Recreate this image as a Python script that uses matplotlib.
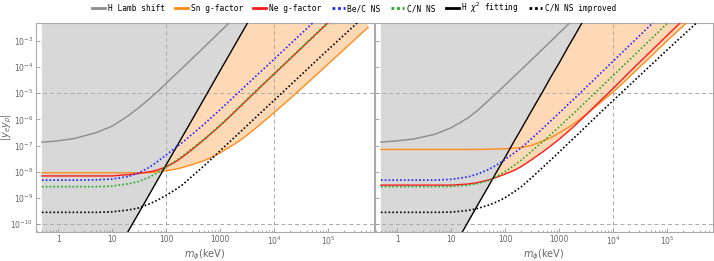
import numpy as np
import matplotlib
matplotlib.use('Agg')
import matplotlib.pyplot as plt
from matplotlib.lines import Line2D
from matplotlib.ticker import FixedLocator, LogLocator, NullFormatter

plt.rcParams['mathtext.fontset'] = 'dejavusans'

# mass grid (keV) and log10 of |y_e y_p|
m_kev = [0.5, 1, 2, 5, 10, 20, 30, 50, 70, 100, 150, 200, 300, 500, 700,
         1e3, 1.5e3, 2e3, 3e3, 5e3, 1e4, 2e4, 5e4, 1e5, 2e5, 5.5e5]

# left panel
lamb_L = [-6.87, -6.82, -6.73, -6.51, -6.26, -5.86, -5.58, -5.20, -4.93, -4.63, -4.28, -4.04, -3.69, -3.25, -2.96,
          -2.65, -2.30, -2.05, -1.70, -1.26, -0.66, -0.06, 0.74, 1.34, 1.94, 2.82]
sn_L = [-8.04, -8.04, -8.04, -8.04, -8.04, -8.04, -8.04, -8.03, -8.00, -7.96, -7.90, -7.84, -7.73, -7.58, -7.45,
        -7.28, -7.06, -6.90, -6.64, -6.27, -5.74, -5.20, -4.46, -3.89, -3.32, -2.49]
ne_L = [-8.16, -8.16, -8.16, -8.16, -8.16, -8.11, -8.07, -8.00, -7.93, -7.81, -7.62, -7.44, -7.16, -6.78, -6.52,
        -6.24, -5.90, -5.65, -5.30, -4.86, -4.27, -3.68, -2.90, -2.31, -1.72, -0.86]
be_L = [-8.32, -8.32, -8.32, -8.31, -8.28, -8.18, -8.06, -7.82, -7.60, -7.36, -7.08, -6.88, -6.58, -6.19, -5.92,
        -5.63, -5.29, -5.05, -4.71, -4.28, -3.70, -3.12, -2.35, -1.77, -1.19, -0.34]
cn_L = [-8.57, -8.57, -8.57, -8.57, -8.55, -8.46, -8.38, -8.20, -8.03, -7.82, -7.58, -7.40, -7.12, -6.76, -6.50,
        -6.22, -5.88, -5.63, -5.28, -4.84, -4.25, -3.66, -2.88, -2.29, -1.70, -0.84]
cni_L = [-9.55, -9.55, -9.55, -9.55, -9.53, -9.46, -9.39, -9.22, -9.08, -8.90, -8.68, -8.50, -8.18, -7.78, -7.50,
         -7.20, -6.86, -6.62, -6.28, -5.85, -5.27, -4.69, -3.92, -3.34, -2.77, -1.93]
chi_L = [-16.03, -14.94, -13.86, -12.43, -11.34, -10.26, -9.63, -8.83, -8.30, -7.74, -7.11, -6.66, -6.03, -5.23, -4.70,
         -4.14, -3.51, -3.06, -2.43, -1.63, -0.54, 0.54, 1.98, 3.06, 4.14, 5.72]

# right panel
lamb_R = [-6.87, -6.82, -6.75, -6.57, -6.32, -5.96, -5.68, -5.27, -4.99, -4.69, -4.34, -4.10, -3.75, -3.31, -3.02,
          -2.71, -2.36, -2.11, -1.76, -1.32, -0.72, -0.12, 0.68, 1.28, 1.88, 2.76]
sn_R = [-7.15, -7.15, -7.15, -7.15, -7.15, -7.15, -7.15, -7.14, -7.13, -7.12, -7.10, -7.07, -7.00, -6.83, -6.70,
        -6.52, -6.30, -6.12, -5.85, -5.47, -4.96, -4.38, -3.60, -3.00, -2.43, -1.60]
ne_R = [-8.51, -8.51, -8.51, -8.51, -8.51, -8.47, -8.42, -8.31, -8.21, -8.09, -7.94, -7.80, -7.56, -7.24, -7.01,
        -6.76, -6.45, -6.22, -5.87, -5.42, -4.82, -4.20, -3.40, -2.80, -2.20, -1.32]
be_R = [-8.32, -8.32, -8.32, -8.32, -8.29, -8.20, -8.10, -7.91, -7.74, -7.53, -7.27, -7.08, -6.76, -6.34, -6.06,
        -5.76, -5.41, -5.17, -4.82, -4.38, -3.78, -3.18, -2.39, -1.79, -1.19, -0.32]
cn_R = [-8.57, -8.57, -8.57, -8.57, -8.56, -8.52, -8.46, -8.33, -8.18, -8.00, -7.74, -7.55, -7.24, -6.85, -6.58,
        -6.29, -5.95, -5.71, -5.36, -4.92, -4.33, -3.73, -2.94, -2.34, -1.74, -0.86]
cni_R = [-9.55, -9.55, -9.55, -9.55, -9.54, -9.48, -9.41, -9.27, -9.15, -8.99, -8.75, -8.57, -8.25, -7.83, -7.55,
         -7.25, -6.90, -6.66, -6.31, -5.87, -5.28, -4.70, -3.93, -3.35, -2.78, -1.95]
chi_R = [-15.73, -14.65, -13.56, -12.13, -11.05, -9.96, -9.32, -8.53, -7.99, -7.45, -6.80, -6.36, -5.72, -4.93, -4.39,
         -3.85, -3.20, -2.76, -2.12, -1.33, -0.25, 0.84, 2.27, 3.35, 4.44, 6.02]

labels = ['H Lamb shift', 'Sn g-factor', 'Ne g-factor', 'Be/C NS', 'C/N NS', r'H $\chi^2$ fitting', 'C/N NS improved']
xticks = [1, 10, 100, 1000, 1e4, 1e5]
xticklabels = ['1', '10', '100', '1000', r'$10^4$', r'$10^5$']
yticks = [1e-3, 1e-4, 1e-5, 1e-6, 1e-7, 1e-8, 1e-9, 1e-10]
yticklabels = [r'$10^{%d}$' % e for e in range(-3, -11, -1)]

GRAY_FILL = '#d8d8d8'
ORANGE_FILL = '#ffd9b5'
C_LAMB = '#8c8c8c'
C_SN = '#ff8c1a'
C_NE = '#ff1a1a'
C_BE = '#2222ff'
C_CN = '#22aa22'
DOT = (0, (1, 1.3))
GRID = '#aaaaaa'


def draw(ax, lamb, sn, ne, be, cn, cni, chi, vlines):
    m = np.array(m_kev)
    lamb, sn, ne, be, cn, cni, chi = [10.0 ** np.array(v) for v in (lamb, sn, ne, be, cn, cni, chi)]
    low = np.minimum(sn, ne)
    # orange band first, the gray region on top trims it to the black line
    ax.fill_between(m, low, np.maximum(chi, low), color=ORANGE_FILL, lw=0, zorder=0)
    ax.fill_between(m, chi, 1.0, color=GRAY_FILL, lw=0, zorder=0)

    for yv in (1e-5, 1e-10):
        ax.axhline(yv, color=GRID, lw=0.7, ls=(0, (4, 3)), zorder=1)
    for xv in vlines:
        ax.axvline(xv, color=GRID, lw=0.7, ls=(0, (4, 3)), zorder=1)

    ax.plot(m, lamb, color=C_LAMB, lw=1.0, zorder=3)
    ax.plot(m, sn, color=C_SN, lw=1.0, zorder=3)
    ax.plot(m, ne, color=C_NE, lw=1.0, zorder=3)
    ax.plot(m, be, color=C_BE, lw=1.2, ls=DOT, zorder=4)
    ax.plot(m, cn, color=C_CN, lw=1.2, ls=DOT, zorder=4)
    ax.plot(m, chi, color='black', lw=1.0, zorder=3)
    ax.plot(m, cni, color='black', lw=1.2, ls=DOT, zorder=4)

    ax.set_xscale('log')
    ax.set_yscale('log')
    ax.set_xlim(10 ** -0.41, 10 ** 5.85)
    ax.set_ylim(10 ** -10.3, 10 ** -2.31)
    ax.xaxis.set_major_locator(FixedLocator(xticks))
    ax.set_xticklabels(xticklabels)
    ax.xaxis.set_minor_locator(LogLocator(base=10, subs=np.arange(2, 10), numticks=20))
    ax.xaxis.set_minor_formatter(NullFormatter())
    ax.yaxis.set_major_locator(FixedLocator(yticks))
    ax.yaxis.set_minor_locator(FixedLocator([]))
    ax.tick_params(which='both', direction='in', color='#999999', labelcolor='#666666',
                   labelsize=5.5, width=0.6, pad=2)
    ax.tick_params(which='major', length=3)
    ax.tick_params(which='minor', length=1.6)
    for s in ax.spines.values():
        s.set_color('#aaaaaa')
        s.set_linewidth(0.8)
    ax.set_xlabel(r'$m_\phi$(keV)', fontsize=7, color='#666666', labelpad=0)


fig = plt.figure(figsize=(7.14, 2.61), dpi=100)
ax1 = fig.add_axes([36 / 714, 1 - 232 / 261, 338 / 714, 209.3 / 261])
ax2 = fig.add_axes([375 / 714, 1 - 232 / 261, 338 / 714, 209.3 / 261])

draw(ax1, lamb_L, sn_L, ne_L, be_L, cn_L, cni_L, chi_L, vlines=[100, 1e4])
draw(ax2, lamb_R, sn_R, ne_R, be_R, cn_R, cni_R, chi_R, vlines=[1e4])

ax1.set_yticklabels(yticklabels)
ax2.set_yticklabels([])
ax1.set_ylabel(r'$|y_e y_p|$', fontsize=7, color='#666666')
ax1.yaxis.set_label_coords(-0.066, 0.5)

handles = [
    Line2D([], [], color=C_LAMB, lw=2),
    Line2D([], [], color=C_SN, lw=2),
    Line2D([], [], color=C_NE, lw=2),
    Line2D([], [], color=C_BE, lw=2, ls=(0, (1, 1))),
    Line2D([], [], color=C_CN, lw=2, ls=(0, (1, 1))),
    Line2D([], [], color='black', lw=2),
    Line2D([], [], color='black', lw=2, ls=(0, (1, 1))),
]
fig.legend(handles, labels, loc='center', bbox_to_anchor=(354 / 714, 1 - 8 / 261), ncol=7,
           frameon=False, prop={'family': 'DejaVu Sans Mono', 'size': 5.7},
           handlelength=1.65, handletextpad=0.35, columnspacing=1.3, borderaxespad=0)

fig.savefig('out.png', dpi=100)
